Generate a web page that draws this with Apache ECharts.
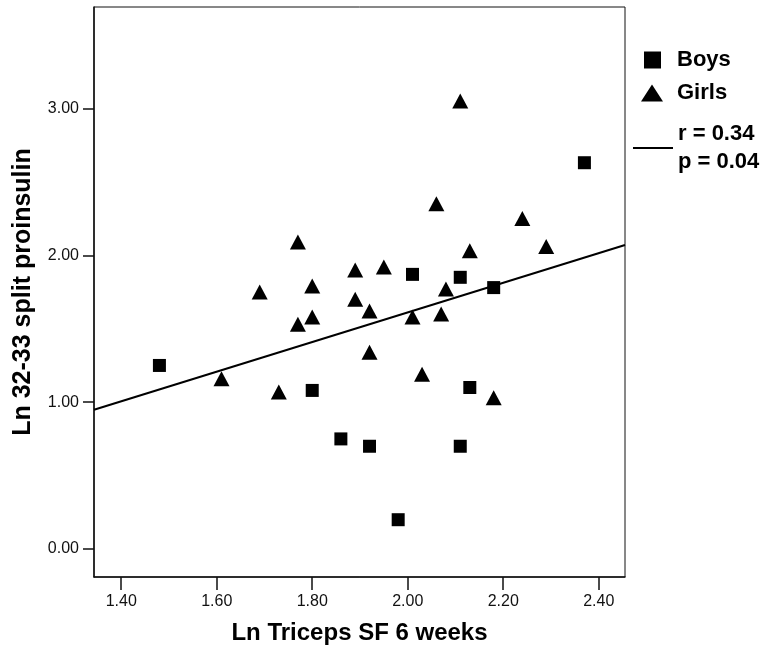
<!DOCTYPE html>
<html>
<head>
<meta charset="utf-8">
<script src="https://cdn.jsdelivr.net/npm/echarts@6/dist/echarts.min.js"></script>
<style>
html,body{margin:0;padding:0;background:#fff;}
#chart{width:765px;height:653px;}
</style>
</head>
<body>
<div id="chart"></div>
<script>
// Data
var boysX = [1.48, 1.80, 1.86, 1.92, 2.11, 1.98, 2.37, 2.01, 2.11, 2.18, 2.13];
var boysY = [1.25, 1.08, 0.75, 0.70, 0.70, 0.20, 2.63, 1.87, 1.85, 1.78, 1.10];

var girlsX = [1.61, 1.73, 1.77, 1.69, 1.80, 1.89, 1.89, 1.80, 1.77, 1.92, 1.92,
              2.11, 2.06, 2.24, 2.13, 2.29, 1.95, 2.08, 2.01, 2.07, 2.03, 2.18];
var girlsY = [1.16, 1.07, 2.09, 1.75, 1.79, 1.90, 1.70, 1.58, 1.53, 1.62, 1.34,
              3.05, 2.35, 2.25, 2.03, 2.06, 1.92, 1.77, 1.58, 1.60, 1.19, 1.03];

// regression line end points (at the axis limits)
var fitX = [1.343, 2.455];
var fitY = [0.948, 2.07];

var xTicks = [1.4, 1.6, 1.8, 2.0, 2.2, 2.4];
var yTicks = [0, 1, 2, 3];

var xName = 'Ln Triceps SF 6 weeks';
var yName = 'Ln 32-33 split proinsulin';
var boysName = 'Boys';
var girlsName = 'Girls';
var fitName = 'r = 0.34\np = 0.04';

function zip(a, b) { return a.map(function (v, i) { return [v, b[i]]; }); }

var FONT = '"Liberation Sans", Arial, Helvetica, sans-serif';
var chart = echarts.init(document.getElementById('chart'), null, {renderer: 'canvas'});

var legendText = {fontFamily: FONT, fontWeight: 'bold', fontSize: 22, color: '#000'};

chart.setOption({
  animation: false,
  backgroundColor: '#fff',
  grid: {left: 94, right: 140, top: 7, bottom: 76, show: true, borderColor: '#111', borderWidth: 1, backgroundColor: 'transparent'},
  legend: [
    {orient: 'vertical', left: 644, top: 49, padding: 0, itemWidth: 17, itemHeight: 17, selectedMode: false,
     data: [{name: boysName, icon: 'rect'}],
     textStyle: Object.assign({}, legendText, {padding: [0, 0, 0, 11]})},
    {orient: 'vertical', left: 641, top: 82, padding: 0, itemWidth: 22, itemHeight: 17, selectedMode: false,
     data: [{name: girlsName, icon: 'triangle'}],
     textStyle: Object.assign({}, legendText, {padding: [0, 0, 0, 9]})},
    {orient: 'vertical', left: 633, top: 120, padding: 0, itemWidth: 40, itemHeight: 2, selectedMode: false,
     data: [{name: fitName, icon: 'rect'}],
     itemStyle: {color: '#000'},
     lineStyle: {color: '#000', width: 2},
     textStyle: Object.assign({}, legendText, {lineHeight: 28})}
  ],
  xAxis: {
    type: 'value', min: 1.343, max: 2.455,
    name: xName, nameLocation: 'middle', nameGap: 44,
    nameTextStyle: {fontFamily: FONT, fontWeight: 'bold', fontSize: 24, color: '#000'},
    axisLine: {show: true, onZero: false, lineStyle: {color: '#111', width: 1.5}},
    axisTick: {show: true, length: 13, inside: false, customValues: xTicks, lineStyle: {color: '#111', width: 1.5}},
    axisLabel: {customValues: xTicks, margin: 17, fontFamily: FONT, fontSize: 16, color: '#111',
      formatter: function (v) { return v.toFixed(2); }},
    splitLine: {show: false}
  },
  yAxis: {
    type: 'value', min: -0.19, max: 3.69,
    name: yName, nameLocation: 'middle', nameGap: 58, nameRotate: 90,
    nameTextStyle: {fontFamily: FONT, fontWeight: 'bold', fontSize: 25, color: '#000'},
    axisLine: {show: true, onZero: false, lineStyle: {color: '#111', width: 1.5}},
    axisTick: {show: true, length: 11, inside: false, customValues: yTicks, lineStyle: {color: '#111', width: 1.5}},
    axisLabel: {customValues: yTicks, margin: 15, fontFamily: FONT, fontSize: 16, color: '#111',
      formatter: function (v) { return v.toFixed(2); }},
    splitLine: {show: false}
  },
  series: [
    {
      name: fitName, type: 'line', data: zip(fitX, fitY), symbol: 'none', showSymbol: false,
      lineStyle: {color: '#000', width: 2}, itemStyle: {color: '#000'}, z: 2, silent: true
    },
    {
      name: boysName, type: 'scatter', data: zip(boysX, boysY), symbol: 'rect', symbolSize: 13,
      itemStyle: {color: '#000', opacity: 1}, z: 3
    },
    {
      name: girlsName, type: 'scatter', data: zip(girlsX, girlsY), symbol: 'triangle', symbolSize: [16, 15],
      itemStyle: {color: '#000', opacity: 1}, z: 3
    }
  ]
});
</script>
</body>
</html>
